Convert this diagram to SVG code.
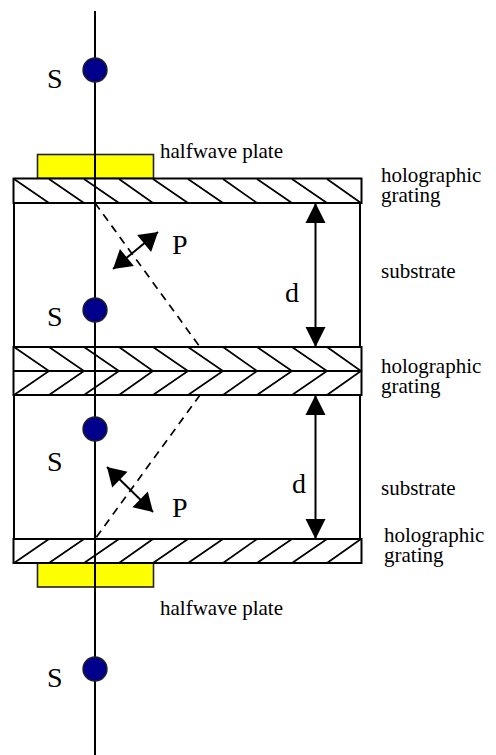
<svg xmlns="http://www.w3.org/2000/svg" width="496" height="755" viewBox="0 0 496 755">
<style>
text{font-family:"Liberation Serif","Times New Roman",serif;fill:#000}
.l{font-size:21px}
.b{font-size:28px}
.ln{stroke:#000;stroke-width:2;fill:none}
.box{stroke:#000;stroke-width:2;fill:#fff}
.plate{fill:#ffff00;stroke:#222;stroke-width:1.6}
.dot{fill:#00008b;stroke:#222;stroke-width:1.4}
.dash{stroke:#000;stroke-width:1.7;stroke-dasharray:8 6;fill:none}
.h{stroke:#000;stroke-width:1.7;fill:none}
.ar{stroke:#000;stroke-width:2;fill:none;marker-start:url(#a);marker-end:url(#a)}
.ap{stroke:#000;stroke-width:2;fill:none;marker-start:url(#p);marker-end:url(#p)}
</style>
<defs>
<marker id="a" markerUnits="userSpaceOnUse" markerWidth="22" markerHeight="22" viewBox="0 0 22 22" refX="21" refY="11" orient="auto-start-reverse"><path d="M1 1 L21 11 L1 21 Z" fill="#000"/></marker>
<marker id="p" markerUnits="userSpaceOnUse" markerWidth="20" markerHeight="24" viewBox="0 0 20 24" refX="19" refY="12" orient="auto-start-reverse"><path d="M1 1 L19 12 L1 23 Z" fill="#000"/></marker>
</defs>
<rect width="496" height="755" fill="#fff"/>
<g id="plate-top"><rect class="plate" x="37.500" y="154.500" width="116" height="24"/></g>
<g id="plate-bottom"><rect class="plate" x="37.500" y="563" width="116" height="24"/></g>
<g id="substrate-top"><rect class="box" x="14" y="203" width="346" height="144"/></g>
<g id="substrate-bottom"><rect class="box" x="14" y="395" width="346" height="144"/></g>
<g id="grating-top">
<rect class="box" x="13.500" y="178.500" width="348" height="24.500"/>
<path class="h" d="M14 179L49 203M49 179L84 203M84 179L119 203M119 179L153 203M153 179L188 203M188 179L223 203M223 179L257 203M257 179L292 203M292 179L327 203M327 179L361 203"/>
</g>
<g id="grating-middle">
<rect class="box" x="13.500" y="347" width="348" height="48"/>
<path class="ln" d="M14 371H361"/>
<path class="h" d="M14 347L49 371L14 395M49 347L84 371L49 395M84 347L119 371L84 395M119 347L153 371L119 395M153 347L188 371L153 395M188 347L223 371L188 395M223 347L257 371L223 395M257 347L292 371L257 395M292 347L327 371L292 395M327 347L361 371L327 395"/>
</g>
<g id="grating-bottom">
<rect class="box" x="13.500" y="539" width="348" height="24"/>
<path class="h" d="M14 563L49 539M49 563L84 539M84 563L119 539M119 563L153 539M153 563L188 539M188 563L223 539M223 563L257 539M257 563L292 539M292 563L327 539M327 563L361 539"/>
</g>
<g id="connectors">
<path class="ln" d="M95 11V755"/>
<path class="dash" d="M95 203L200 347"/>
<path class="dash" d="M200 395L95 539"/>
<path class="ar" d="M315.500 203V347"/>
<path class="ar" d="M315.500 395V539"/>
<path class="ap" d="M113 269L158 232"/>
<path class="ap" d="M107 467L153 512"/>
</g>
<g id="s1"><circle class="dot" cx="95" cy="70" r="12"/><text class="b" x="47" y="88">S</text></g>
<g id="s2"><circle class="dot" cx="95" cy="310" r="12"/><text class="b" x="47" y="326">S</text></g>
<g id="s3"><circle class="dot" cx="95" cy="429" r="12"/><text class="b" x="47" y="471">S</text></g>
<g id="s4"><circle class="dot" cx="95" cy="669" r="12"/><text class="b" x="47" y="687">S</text></g>
<g id="labels">
<text class="b" x="172" y="254">P</text>
<text class="b" x="172" y="517">P</text>
<text class="b" x="285" y="302">d</text>
<text class="b" x="292" y="493">d</text>
<text class="l" x="160" y="158">halfwave plate</text>
<text class="l" x="160" y="615">halfwave plate</text>
<text class="l" x="381" y="182">holographic<tspan x="381" dy="20">grating</tspan></text>
<text class="l" x="381" y="278">substrate</text>
<text class="l" x="381" y="373">holographic<tspan x="381" dy="20">grating</tspan></text>
<text class="l" x="381" y="495">substrate</text>
<text class="l" x="384" y="542">holographic<tspan x="384" dy="20">grating</tspan></text>
</g>
</svg>
